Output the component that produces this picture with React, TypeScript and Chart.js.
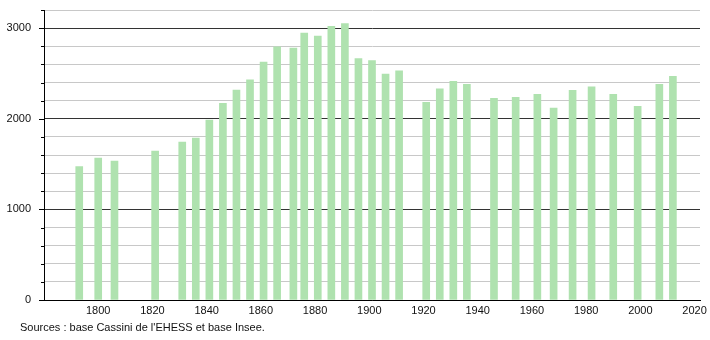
import React, { useEffect, useRef } from "react";
import { Chart, registerables } from "chart.js";

Chart.register(...registerables);

const years = [1793, 1800, 1806, 1821, 1831, 1836, 1841, 1846, 1851, 1856, 1861, 1866, 1872, 1876, 1881, 1886, 1891, 1896, 1901, 1906, 1911, 1921, 1926, 1931, 1936, 1946, 1954, 1962, 1968, 1975, 1982, 1990, 1999, 2007, 2012];
const population = [1473, 1565, 1532, 1642, 1742, 1786, 1986, 2171, 2316, 2429, 2625, 2794, 2780, 2946, 2913, 3020, 3049, 2665, 2643, 2492, 2528, 2182, 2329, 2414, 2381, 2226, 2237, 2270, 2119, 2314, 2351, 2270, 2137, 2381, 2469];
const yLabels = [0, 1000, 2000, 3000];
const xLabels = [1800, 1820, 1840, 1860, 1880, 1900, 1920, 1940, 1960, 1980, 2000, 2020];
const sourceText = "Sources : base Cassini de l'EHESS et base Insee.";

const FONT = "'Liberation Sans', Arial, sans-serif";

const tickPlugin = {
  id: "yticks",
  afterDraw(chart: any) {
    const y = chart.scales.y;
    const ctx = chart.ctx;
    const left = chart.chartArea.left;
    ctx.save();
    ctx.strokeStyle = "#000";
    ctx.lineWidth = 1;
    for (let v = 0; v <= 3200; v += 200) {
      const py = Math.round(y.getPixelForValue(v)) + 0.5;
      const len = v % 1000 === 0 ? 5 : 3;
      ctx.beginPath();
      ctx.moveTo(left - len, py);
      ctx.lineTo(left, py);
      ctx.stroke();
    }
    ctx.restore();
  },
};

export default function App() {
  const ref = useRef<HTMLCanvasElement>(null);
  useEffect(() => {
    document.body.style.margin = "0";
    const chart = new Chart(ref.current!, {
      type: "bar",
      data: {
        datasets: [
          {
            data: years.map((x, i) => ({ x, y: population[i] })),
            backgroundColor: "#afe2af",
            borderWidth: 0,
            barThickness: 7,
          },
        ],
      },
      options: {
        animation: false,
        responsive: false,
        layout: { padding: { top: 10, right: 10, left: 0, bottom: 0 } },
        plugins: { legend: { display: false }, tooltip: { enabled: false } },
        scales: {
          x: {
            type: "linear",
            offset: false,
            min: 1780,
            max: 2022,
            afterBuildTicks: (s: any) => {
              s.ticks = xLabels.map((v) => ({ value: v }));
            },
            afterFit: (s: any) => {
              s.height = 40;
              s.paddingLeft = 0;
              s.paddingRight = 0;
            },
            grid: { display: false, drawTicks: false, offset: false },
            border: { color: "#000", width: 1 },
            ticks: {
              padding: 4,
              color: "#111",
              font: { family: FONT, size: 11 },
              maxRotation: 0,
              autoSkip: false,
              callback: (v: any) => String(v),
            },
          },
          y: {
            min: 0,
            max: 3200,
            afterBuildTicks: (s: any) => {
              const t = [];
              for (let v = 0; v <= 3200; v += 200) t.push({ value: v });
              s.ticks = t;
            },
            afterFit: (s: any) => {
              s.width = 44;
              s.paddingTop = 0;
              s.paddingBottom = 0;
            },
            grid: {
              drawTicks: false,
              color: (c: any) =>
                c.tick && c.tick.value % 1000 === 0 ? "#333" : "#c8c8c8",
            },
            border: { color: "#000", width: 1 },
            ticks: {
              padding: 13,
              color: "#111",
              autoSkip: false,
              font: { family: FONT, size: 11 },
              callback: (v: any) => (yLabels.includes(v) ? String(v) : ""),
            },
          },
        },
      },
      plugins: [tickPlugin],
    });
    return () => chart.destroy();
  }, []);
  return (
    <div style={{ position: "relative", width: 710, height: 340, background: "#fff" }}>
      <canvas ref={ref} width={710} height={340} style={{ display: "block" }} />
      <div
        style={{
          position: "absolute",
          left: 20,
          top: 321,
          fontFamily: FONT,
          fontSize: 11,
          color: "#111",
          whiteSpace: "nowrap",
        }}
      >
        {sourceText}
      </div>
    </div>
  );
}
